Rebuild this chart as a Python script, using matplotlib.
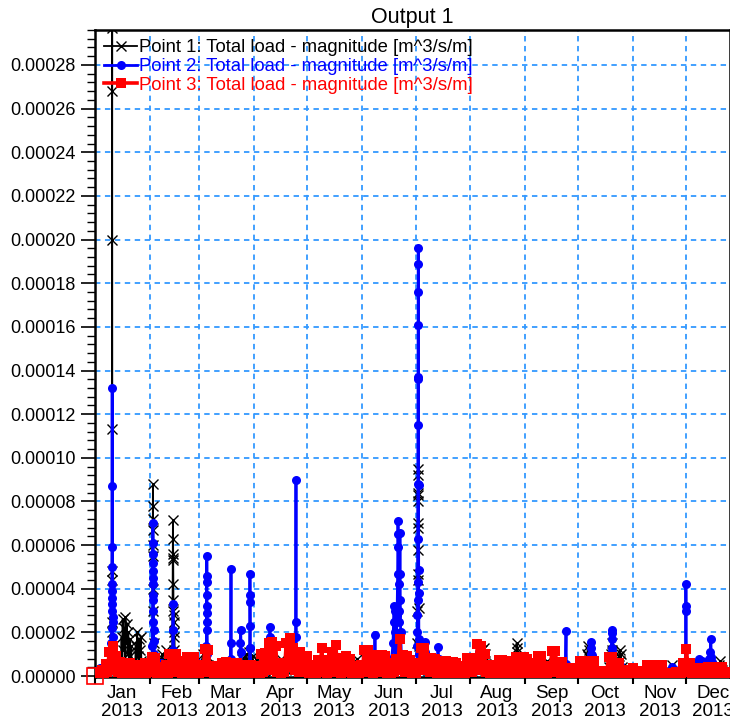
import numpy as np
import matplotlib
matplotlib.use('Agg')
import matplotlib.pyplot as plt
import matplotlib.dates as mdates
from matplotlib.ticker import MultipleLocator, FormatStrFormatter, NullFormatter

plt.rcParams['font.family'] = ['Liberation Sans', 'DejaVu Sans']

START = np.datetime64('2013-01-01T00:00')
UNIT = 1e-6  # values below are in 1e-6 m^3/s/m

# ---------------- Point 1 (black) : day of year, value ----------------
p1_days = [0, 3, 6, 9.0, 9.2, 9.4, 9.5, 9.55, 9.6, 9.65, 9.7, 9.75, 9.8, 10.2,
           12, 14.5, 15.0, 15.3, 15.6, 16.0, 16.4, 16.8, 17.2, 17.6, 18.0, 18.4, 18.8, 19.2, 19.6, 20.0, 20.4, 20.9,
           22.6, 23.0, 23.4, 23.8, 24.2, 24.6, 25.0, 25.4, 25.8, 26.2, 26.6, 27.5, 28.5, 29.5, 30.5,
           32.3, 32.5, 32.6, 32.7, 32.75, 32.8, 32.85, 32.9, 33.0, 33.2, 33.5,
           34, 35, 36, 37, 38, 39, 40, 41, 42,
           43.6, 43.8, 43.9, 44.0, 44.05, 44.1, 44.15, 44.2, 44.3, 44.4, 44.5, 44.6, 44.7, 44.8, 45.0, 45.5,
           46, 48, 50, 52, 54, 56, 58,
           60, 61, 62, 63, 64, 65, 67, 70, 73, 76, 79,
           82, 83, 84, 85, 86, 87, 88, 89, 90, 91, 92, 93, 94,
           96, 100, 104, 105, 106, 108, 112, 115, 116,
           120, 125, 130, 135, 140, 145, 148, 150, 155, 160, 165, 168, 170, 172, 175, 178, 180,
           181.8, 182.0, 182.1, 182.15, 182.2, 182.25, 182.3, 182.35, 182.4, 182.45, 182.5, 182.55, 182.6, 182.7, 182.8, 183.0,
           185, 188, 192, 196, 200, 203, 205, 210, 215, 217.5, 218.5, 219.0, 219.5, 220.0, 220.5, 221.5, 225, 226, 228,
           236, 237.8, 238.1, 238.3, 238.5, 238.8, 240, 245, 250, 255, 260, 265, 270, 275,
           277.5, 278.0, 278.3, 278.6, 279.0, 279.4, 280.0, 285, 290.5, 291.5, 291.9, 292.2, 292.5, 295.5, 296.0, 296.3, 296.6, 297.0, 297.5, 298,
           300, 305, 310, 315, 320, 325, 325.8, 330, 333, 334, 338, 342, 346, 350, 352.5, 353.2, 354, 357]
p1_vals = [1, 2, 1, 2, 2, 25, 48, 113, 200, 268, 297, 44, 20, 5,
           3, 3, 18, 8, 26, 12, 22, 6, 27, 15, 24, 10, 20, 5, 17, 9, 14, 3,
           2, 14, 6, 20, 9, 17, 4, 12, 18, 7, 2, 3, 4, 2, 4,
           4, 30, 55, 88, 78, 72, 67, 60, 40, 15, 5,
           6, 3, 8, 4, 10, 5, 12, 6, 9,
           5, 30, 53, 71.5, 56, 63, 54, 42, 35, 28, 20, 25, 12, 18, 8, 3,
           4, 6, 3, 5, 2, 4, 3,
           6, 10, 4, 9, 5, 3, 2, 3, 2, 3, 2,
           3, 8, 4, 10, 6, 11, 5, 9, 4, 8, 3, 7, 2,
           3, 2, 5, 8, 4, 3, 4, 7, 3,
           2, 4, 3, 5, 6, 3, 8, 3, 4, 3, 5, 8, 4, 6, 3, 5, 4,
           5, 15, 30, 47, 58, 70, 83, 95, 92, 84, 80, 68, 44, 31, 14, 6,
           4, 3, 5, 3, 4, 5, 3, 3, 3, 6, 12, 9, 13, 7, 10, 4, 5, 5.5, 2,
           3, 8, 15, 11, 13, 7, 3, 3, 2, 7, 3, 2, 3, 4,
           4, 10, 14, 9, 12, 7, 5, 2, 4, 10, 15, 12, 8, 4, 9, 12, 7, 10, 4, 2,
           2, 1, 2, 2, 1, 2, 5, 3, 3, 4, 2, 3, 4, 3, 5, 7, 3, 2]

# ---------------- Point 2 (blue) ----------------
p2_days = [0, 3, 6, 9.0, 9.3, 9.4, 9.45, 9.5, 9.55, 9.6, 9.65, 9.7, 9.75, 9.8, 9.85, 9.9, 9.95, 10.0, 10.2, 10.5,
           11, 13, 15, 17, 19, 21, 23, 25, 27, 29, 31,
           32.3, 32.4, 32.5, 32.55, 32.6, 32.65, 32.7, 32.75, 32.8, 32.85, 32.9, 32.95, 33.0, 33.05, 33.1, 33.2, 33.5,
           35, 37, 39, 41, 43, 44.0, 44.05, 44.1, 44.2, 46, 48, 50, 52, 54, 56, 58, 60,
           62.7, 62.9, 63.0, 63.05, 63.1, 63.15, 63.2, 63.25, 63.3, 63.35, 63.5, 63.8,
           66, 69, 72, 74, 76.3, 76.6, 76.8, 77.0, 77.3, 79, 81.8, 82.1, 82.3, 82.5, 82.8, 85, 87.2, 87.35, 87.45, 87.5, 87.55, 87.6, 87.7, 88.0,
           90, 93, 96, 98.5, 98.7, 98.8, 98.9, 99.1, 100, 103, 106, 109, 113.2, 113.4, 113.5, 113.55, 113.7, 116, 119, 122, 125, 128,
           131, 134, 137, 140, 143, 146, 149, 152, 155, 157.8, 158.1, 158.4, 161, 164,
           166.5, 167.5, 168.3, 168.6, 168.9, 169.2, 169.6, 170.0, 170.6, 170.9,
           171.1, 171.2, 171.3, 171.4, 171.6, 171.9, 172.2, 172.3, 172.4, 172.6, 173, 174, 175, 177, 179,
           181.9, 182.0, 182.05, 182.1, 182.15, 182.2, 182.25, 182.3, 182.35, 182.4, 182.45, 182.5, 182.55, 182.6, 182.65, 182.7, 182.75, 182.8, 182.9, 183.0, 183.5,
           185.8, 186.3, 186.6, 187, 189, 191, 193.3, 193.7, 194.0, 194.5, 196, 199, 202, 205, 208, 211, 214,
           216.5, 217, 217.5, 220, 223, 226, 229, 232, 235, 238.3, 240, 244, 248, 252, 256, 260,
           265.6, 266.0, 266.2, 266.6, 268, 272, 276, 279.5, 279.9, 280.1, 280.3, 280.5, 280.8, 281.2, 284, 288,
           291.4, 291.7, 291.8, 291.9, 292.0, 292.1, 292.4, 296.5, 300, 305, 310, 315, 320, 325.8,
           330, 333.2, 333.5, 333.6, 333.7, 333.8, 334.0, 336, 338.5, 340, 341, 342, 343, 344, 345,
           346.5, 347.5, 347.8, 348.0, 348.3, 349, 351, 353, 355, 357]
p2_vals = [2, 3.7, 3, 3, 15, 22, 30, 36, 42, 59, 87, 132, 50, 39, 33, 27, 25, 18, 12, 6,
           5, 3, 4, 2, 5, 3, 4, 2, 5, 4, 6,
           5, 14, 25, 35, 45, 56, 70, 61, 52, 48, 42, 37, 30, 21, 16, 10, 5,
           4, 6, 3, 5, 4, 12, 33, 21, 9, 3, 5, 6, 3, 5, 4, 6, 3,
           4, 14, 25, 32, 43, 55, 46, 37, 29, 21, 10, 4,
           3, 5, 3, 4, 4, 15, 49, 8, 4, 3, 5, 15, 21, 11, 4, 3, 5, 13, 23, 47, 37, 34, 13, 4,
           4, 3, 5, 5, 15, 22.5, 18, 6, 3, 5, 4, 6, 4, 18, 90, 25, 5, 3, 5, 4, 3, 5,
           4, 8, 3, 5, 4, 3, 5, 4, 3, 5, 19, 5, 4, 6,
           4, 8, 15, 25, 32, 20, 30, 12, 28, 47,
           71, 65, 59, 42, 30, 25, 65.5, 47, 35, 20, 10, 6, 4, 5, 4,
           6, 14, 20, 28, 35, 43, 63, 88, 115, 137, 161, 176, 196, 189, 136, 87.5, 48.6, 38, 17, 10, 6,
           6, 15.6, 11, 6, 4, 5, 5, 13.3, 8, 4, 4, 3, 5, 3, 4, 3, 6,
           5, 11, 6, 4, 3, 4, 3, 4, 5, 7, 6, 3, 4, 3, 4, 3,
           4, 20.6, 5.5, 3, 3, 4, 3, 6, 10, 13, 15.6, 9.6, 8, 5, 3, 2,
           6, 11, 17, 21, 19.7, 12.8, 5, 5, 2, 2, 1, 2, 2, 4,
           3, 3, 12, 30, 42, 32, 5, 3, 3, 6, 8, 5, 7, 4, 6,
           8, 11, 17, 8.7, 6.4, 5, 4, 3, 3, 2]

# ---------------- Point 3 (red) : one value per day from 1 Jan ----------------
p3_vals = [0, 0.5, 2, 0.8, 3, 1, 5.5, 2, 11, 3,
           14, 4, 9, 2, 6.4, 1.5, 6, 2, 5.5, 1,
           6, 1.5, 4.5, 1, 5, 2, 4, 1, 6, 1.5,
           6, 2, 8.7, 3, 8.5, 1.5, 4, 1, 3.7, 0.8,
           5, 1.5, 10, 3, 9.5, 2, 10, 4, 7, 1.5,
           4, 1, 8.7, 2, 8.5, 1.5, 8.7, 1, 5, 1.5,
           5, 2, 12.4, 4, 12, 2, 4, 1, 4.5, 1,
           3.5, 1, 6, 1.5, 6.4, 2, 6, 1, 5.5, 1.5,
           6, 1.5, 5, 1, 5, 2, 4.5, 1, 5, 1,
           4, 1, 4.5, 1.5, 10, 2, 10.5, 3, 15, 4,
           15.6, 3, 14, 2, 5, 1.5, 6, 2, 15, 4,
           17.4, 5, 12.8, 3, 10.5, 2, 11, 3, 8, 2,
           9, 1.5, 5, 1, 5, 1.5, 7.3, 2, 12.8, 3,
           7.3, 1.5, 6, 2, 11, 3, 14.2, 2, 8.3, 1.5,
           8.3, 2, 9.2, 2, 8, 1, 4, 1, 4.5, 1,
           5, 2, 12, 3, 12, 2, 8, 1.5, 8, 2,
           9.6, 2, 9.6, 3, 9, 1.5, 5.5, 1, 6, 2,
           8, 3, 17, 4, 9.6, 2, 9, 2, 7.3, 1.5,
           3, 1, 6, 3, 13, 4, 12.8, 3, 8, 2,
           8.3, 2, 8, 1.5, 7, 2, 6.4, 1.5, 6.9, 1,
           6.4, 1.5, 6.4, 1, 6, 1, 4.6, 1, 4, 1.5,
           8.3, 2, 8.3, 2, 4, 3, 14.7, 4, 14, 3,
           10, 2, 5, 1, 5, 1.5, 5, 1, 7.3, 1.5,
           7.3, 2, 7, 1, 4.6, 1, 4.6, 1.5, 8.7, 2,
           8.7, 2, 8.7, 1.5, 8, 1, 4.6, 1.5, 6, 1,
           9.2, 2, 9.2, 1.5, 4.6, 1, 4.6, 2, 11.5, 3,
           11.5, 2, 6.4, 1.5, 6.4, 1, 3.5, 1, 3, 1,
           3.5, 0.5, 3, 1, 6.9, 1.5, 6.9, 2, 6.9, 1.5,
           6.9, 2, 6.9, 1, 2, 0.5, 2.3, 0.5, 2, 1,
           8.7, 2, 8.7, 2.5, 6, 1.5, 6, 1, 3, 0.5,
           3, 0.5, 2, 0.5, 3.7, 0.5, 2.3, 0.5, 2.3, 0.5,
           2.3, 1, 5, 1, 5, 1.5, 5, 1, 5, 1.5,
           5, 1, 1.5, 0.5, 1.5, 0.5, 1.5, 0.5, 2, 0.5,
           2, 1, 6, 2, 12.3, 3, 6, 1, 2, 0.5,
           3.7, 1, 3.7, 0.5, 3, 1, 4.1, 1, 4.1, 1.5,
           4.1, 1, 4.1, 1.5, 4.1, 1, 2, 0.5, 2]

labels = ['Point 1: Total load - magnitude [m^3/s/m]',
          'Point 2: Total load - magnitude [m^3/s/m]',
          'Point 3: Total load - magnitude [m^3/s/m]']
y_ticks = [0.0, 0.00002, 0.00004, 0.00006, 0.00008, 0.00010, 0.00012, 0.00014,
           0.00016, 0.00018, 0.00020, 0.00022, 0.00024, 0.00026, 0.00028]


def to_dates(days):
    mins = np.round(np.asarray(days, dtype=float) * 24 * 60).astype('int64')
    return START + mins.astype('timedelta64[m]')


p1_t = to_dates(p1_days)
p2_t = to_dates(p2_days)
p3_t = to_dates(np.arange(len(p3_vals)))
p1_y = np.asarray(p1_vals) * UNIT
p2_y = np.asarray(p2_vals) * UNIT
p3_y = np.asarray(p3_vals) * UNIT

W, H = 730, 720
fig = plt.figure(figsize=(W / 100, H / 100), dpi=100)
ax = fig.add_axes([95 / W, 43 / H, (W - 95) / W, (677 - 30) / H])

ax.plot(p1_t, p1_y, color='black', lw=1.3, marker='x', ms=6.5, mew=1.0, label=labels[0], zorder=3)
ax.plot(p2_t, p2_y, color='#0000ff', lw=2.0, marker='o', ms=6.5, mew=0, label=labels[1], zorder=4)
ax.plot(p3_t, p3_y, color='#ff0000', lw=2.6, marker='s', ms=7, mew=0, label=labels[2], zorder=5)
ax.plot(p3_t[:1], p3_y[:1], ls='none', marker='s', ms=11, mfc='none', mec='#ff0000', mew=1.2,
        clip_on=False, zorder=6)

ax.set_xlim(START, START + np.timedelta64(int(358.6 * 24 * 60), 'm'))
ax.set_ylim(-0.4e-6, 296e-6)

ax.set_yticks(y_ticks)
ax.yaxis.set_major_formatter(FormatStrFormatter('%.5f'))
ax.yaxis.set_minor_locator(MultipleLocator(0.000004))

ax.xaxis.set_major_locator(mdates.MonthLocator())
ax.xaxis.set_major_formatter(NullFormatter())
ax.xaxis.set_minor_locator(mdates.MonthLocator(bymonthday=16))
ax.xaxis.set_minor_formatter(mdates.DateFormatter('%b\n%Y'))

ax.tick_params(axis='y', which='major', length=10, width=1.2, labelsize=13, pad=4, direction='out')
ax.tick_params(axis='y', which='minor', length=6, width=1.0, direction='out')
ax.tick_params(axis='x', which='major', length=5, width=1.5, direction='out')
ax.tick_params(axis='x', which='minor', length=0, labelsize=13.5, pad=6)
for lab in ax.get_xticklabels(minor=True):
    lab.set_linespacing(1.02)

ax.grid(True, which='major', color='#3399ff', ls=(0, (3, 2.5)), lw=1.3, zorder=0)
for s in ax.spines.values():
    s.set_color('black')
    s.set_linewidth(1.8)

ax.set_title('Output 1', fontsize=15.5, pad=5)

ax.legend(loc='upper left', frameon=False, fontsize=13.3, labelcolor='linecolor',
          handlelength=1.8, handletextpad=0.1, borderpad=0.0, borderaxespad=0.5,
          labelspacing=0.1)

fig.savefig('out.png', dpi=100)
